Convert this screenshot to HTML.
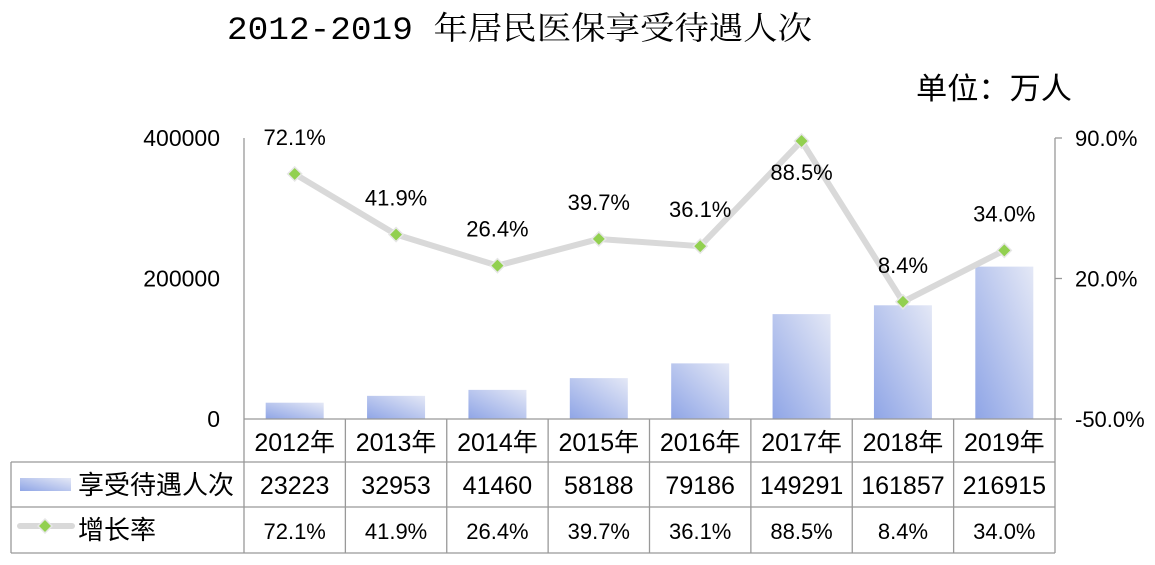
<!DOCTYPE html>
<html><head><meta charset="utf-8"><style>
body{margin:0;background:#fff;}
svg{display:block;}
text{font-family:"Liberation Sans","Noto Sans CJK SC",sans-serif;fill:#000;}
</style></head><body>
<svg id="chart" width="1155" height="565" viewBox="0 0 1155 565">
<defs>
<linearGradient id="bg" x1="0" y1="1" x2="1" y2="0">
<stop offset="0" stop-color="#8fa5e6"/><stop offset="1" stop-color="#e4e8f6"/>
</linearGradient>
</defs>
<text x="227" y="39" font-size="32" textLength="585" lengthAdjust="spacingAndGlyphs" style="font-family:'Liberation Mono','Noto Serif CJK SC',serif">2012-2019 年居民医保享受待遇人次</text>
<text x="916" y="99" font-size="30" textLength="156" lengthAdjust="spacingAndGlyphs">单位：万人</text>
<g id="axes"></g>
<g id="bars"></g>
<g id="line"></g>
<g id="table"></g>
</svg>
<script>
const categories=["2012年","2013年","2014年","2015年","2016年","2017年","2018年","2019年"];
const people=[23223,32953,41460,58188,79186,149291,161857,216915];
const rates=[72.1,41.9,26.4,39.7,36.1,88.5,8.4,34.0];
const leftTicks=[0,200000,400000];
const rightTicks=[-50,20,90];
const seriesNames=["享受待遇人次","增长率"];

const NS="http://www.w3.org/2000/svg";
const X0=244,X1=1055,Y0=419,Y1=138;
const cw=(X1-X0)/categories.length;
const xc=i=>X0+cw*(i+0.5);
const yL=v=>Y0-(v/400000)*(Y0-Y1);
const yR=v=>Y0-((v+50)/140)*(Y0-Y1);
function mk(tag,attrs,parent,txt){const e=document.createElementNS(NS,tag);for(const k in attrs)e.setAttribute(k,attrs[k]);if(txt!==undefined)e.textContent=txt;parent.appendChild(e);return e;}
const axes=document.getElementById('axes'),bars=document.getElementById('bars'),line=document.getElementById('line'),table=document.getElementById('table');

let e=mk('line',{x1:X0,y1:Y1,x2:X0,y2:Y0,stroke:'#999','stroke-width':1.3},axes);


e=mk('line',{x1:X1,y1:Y1,x2:X1,y2:Y0,stroke:'#999','stroke-width':1.3},axes);


leftTicks.forEach(t=>{
 const el=mk('text',{x:220,y:yL(t)+8,'font-size':23,'text-anchor':'end'},axes,String(t));
 
 
});
rightTicks.forEach(t=>{
 const tk=mk('line',{x1:X1,y1:yR(t),x2:X1+7,y2:yR(t),stroke:'#999','stroke-width':1.3},axes);
 
 
 const el=mk('text',{x:1075,y:yR(t)+8,'font-size':22},axes,t.toFixed(1)+'%');
 
 
});
const bw=58;
people.forEach((v,i)=>{
 const r=mk('rect',{x:xc(i)-bw/2,y:yL(v),width:bw,height:Y0-yL(v),fill:'url(#bg)'},bars);
 
 
});
const pts=rates.map((v,i)=>xc(i)+','+yR(v)).join(' ');
e=mk('polyline',{points:pts,fill:'none',stroke:'#d9d9d9','stroke-width':6,'stroke-linejoin':'round'},line);


rates.forEach((v,i)=>{
 const x=xc(i),y=yR(v);
 const m=mk('polygon',{points:`${x},${y-7} ${x+7},${y} ${x},${y+7} ${x-7},${y}`,fill:'#92d050',stroke:'#e6e6e6','stroke-width':1.5},line);
 
 
 const below=(i>0&&v>rates[i-1]&&v>70&&y<160);
 const ly=below?y+39:y-29;
 const t=mk('text',{x:x,y:ly,'font-size':22,'text-anchor':'middle'},line,v.toFixed(1)+'%');
 
 
});
const RY=[419,462,507,553];
const TL=11;
function ln(x1,y1,x2,y2,name){const l=mk('line',{x1,y1,x2,y2,stroke:'#999','stroke-width':1.3},table);}
ln(X0,RY[0],X1,RY[0],'table-line');
ln(TL,RY[1],X1,RY[1],'table-line');
ln(TL,RY[2],X1,RY[2],'table-line');
ln(TL,RY[3],X1,RY[3],'table-line');
ln(TL,RY[1],TL,RY[3],'table-line');
for(let i=0;i<=categories.length;i++) ln(X0+cw*i,RY[0],X0+cw*i,RY[3],'table-line');
categories.forEach((c,i)=>{
 const t=mk('text',{x:xc(i),y:451,'font-size':25,'text-anchor':'middle'},table,c);
 
 
 const a=mk('text',{x:xc(i),y:494,'font-size':25,'text-anchor':'middle'},table,String(people[i]));
 
 
 const b=mk('text',{x:xc(i),y:539,'font-size':22,'text-anchor':'middle'},table,rates[i].toFixed(1)+'%');
 
 
});
e=mk('rect',{x:20,y:478,width:51,height:13,fill:'url(#bg)'},table);


e=mk('text',{x:78,y:494,'font-size':26},table,seriesNames[0]);


e=mk('line',{x1:20,y1:526,x2:72,y2:526,stroke:'#d9d9d9','stroke-width':6,'stroke-linecap':'round'},table);


e=mk('polygon',{points:'45,519 52,526 45,533 38,526',fill:'#92d050',stroke:'#e6e6e6','stroke-width':1.5},table);


e=mk('text',{x:78,y:539,'font-size':26},table,seriesNames[1]);


</script>
</body></html>
